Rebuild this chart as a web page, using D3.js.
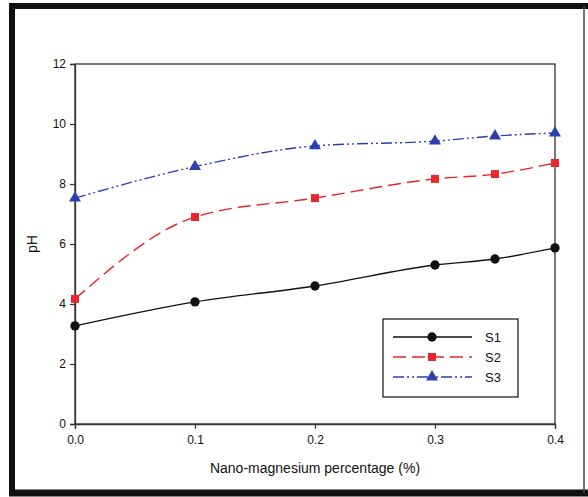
<!DOCTYPE html>
<html>
<head>
<meta charset="utf-8">
<script src="https://cdn.jsdelivr.net/npm/d3@7"></script>
<style>
  html, body { margin: 0; padding: 0; background: #fff; }
  svg { display: block; font-family: "Liberation Sans", Arial, sans-serif; }
</style>
</head>
<body>
<svg id="chart" width="588" height="497"></svg>
<script>
// Nano-magnesium content (%) on the x axis
const percentages = [0, 0.1, 0.2, 0.3, 0.35, 0.4];
// pH readings per mix
const seriesNames = ["S1", "S2", "S3"];
const s1Values = [3.27, 4.07, 4.6, 5.3, 5.5, 5.87];
const s2Values = [4.17, 6.9, 7.53, 8.17, 8.33, 8.7];
const s3Values = [7.53, 8.58, 9.27, 9.43, 9.6, 9.7];
const xTicks = [0, 0.1, 0.2, 0.3, 0.4];
const yTicks = [0, 2, 4, 6, 8, 10, 12];

const svg = d3.select("#chart");

// outer frame
const frame = svg.append("g");
frame.append("rect").attr("x", 0).attr("y", 0).attr("width", 588).attr("height", 497).attr("fill", "#fff");
frame.append("line").attr("x1", 12).attr("x2", 12).attr("y1", 3).attr("y2", 494)
  .attr("stroke", "#111").attr("stroke-width", 6);
frame.append("line").attr("x1", 9).attr("x2", 588).attr("y1", 6).attr("y2", 6)
  .attr("stroke", "#111").attr("stroke-width", 6);
frame.append("line").attr("x1", 9).attr("x2", 588).attr("y1", 493).attr("y2", 493)
  .attr("stroke", "#111").attr("stroke-width", 7);
frame.append("line").attr("x1", 584).attr("x2", 584).attr("y1", 6).attr("y2", 493)
  .attr("stroke", "#444").attr("stroke-width", 1.5);

const plot = { left: 75, right: 555, top: 64, bottom: 424 };
const x = d3.scaleLinear().domain([0, 0.4]).range([plot.left, plot.right]);
const y = d3.scaleLinear().domain([0, 12]).range([plot.bottom, plot.top]);

// plot box
svg.append("rect")
  .attr("x", plot.left).attr("y", plot.top)
  .attr("width", plot.right - plot.left).attr("height", plot.bottom - plot.top)
  .attr("fill", "none").attr("stroke", "#333").attr("stroke-width", 1.3);

const xAxis = svg.append("g")
  .attr("transform", `translate(0,${plot.bottom})`)
  .call(d3.axisBottom(x).tickValues(xTicks).tickFormat(d3.format(".1f")).tickSize(5).tickPadding(6));
const yAxis = svg.append("g")
  .attr("transform", `translate(${plot.left},0)`)
  .call(d3.axisLeft(y).tickValues(yTicks).tickFormat(d3.format("d")).tickSize(5).tickPadding(4));

[xAxis, yAxis].forEach(a => {
  a.select(".domain").attr("stroke", "#333").attr("stroke-width", 1.3);
  a.selectAll(".tick line").attr("stroke", "#333").attr("stroke-width", 1.2);
  a.selectAll(".tick text").attr("fill", "#111").attr("font-size", 12)
    .attr("font-family", "'Liberation Sans', Arial, sans-serif");
});

// axis titles
svg.append("text")
  .attr("x", (plot.left + plot.right) / 2).attr("y", 473)
  .attr("text-anchor", "middle").attr("font-size", 14).attr("fill", "#111")
  .text("Nano-magnesium percentage (%)");
svg.append("text")
  .attr("transform", `translate(37,${(plot.top + plot.bottom) / 2}) rotate(-90)`)
  .attr("text-anchor", "middle").attr("font-size", 14).attr("fill", "#111")
  .text("pH");

const series = [
  { name: seriesNames[0], values: s1Values, color: "#111", dash: null, marker: "circle" },
  { name: seriesNames[1], values: s2Values, color: "#e8262b", dash: "13,6", marker: "square" },
  { name: seriesNames[2], values: s3Values, color: "#2d3fae", dash: "11,3,2,3,2,3", marker: "triangle" }
];

const line = d3.line()
  .x(d => x(d[0])).y(d => y(d[1]))
  .curve(d3.curveMonotoneX);

const symbolFor = {
  circle: d3.symbol().type(d3.symbolCircle).size(68),
  square: d3.symbol().type(d3.symbolSquare).size(64),
  triangle: d3.symbol().type(d3.symbolTriangle).size(62)
};

series.forEach(s => {
  const pts = percentages.map((p, i) => [p, s.values[i]]);
  svg.append("path")
    .datum(pts)
    .attr("d", line)
    .attr("fill", "none")
    .attr("stroke", s.color)
    .attr("stroke-width", 1.4)
    .attr("stroke-dasharray", s.dash);
  svg.append("g").selectAll("path")
    .data(pts)
    .join("path")
    .attr("transform", d => `translate(${x(d[0])},${y(d[1])})`)
    .attr("d", symbolFor[s.marker])
    .attr("fill", s.color);
});

// legend
const legend = svg.append("g").attr("transform", "translate(383,319)");
legend.append("rect").attr("width", 135).attr("height", 78)
  .attr("fill", "#fff").attr("stroke", "#222").attr("stroke-width", 1.3);
series.forEach((s, i) => {
  const ly = 18 + i * 20;
  legend.append("line")
    .attr("x1", 10).attr("x2", 89).attr("y1", ly).attr("y2", ly)
    .attr("stroke", s.color).attr("stroke-width", 1.4)
    .attr("stroke-dasharray", s.dash);
  legend.append("path")
    .attr("transform", `translate(49,${ly})`)
    .attr("d", symbolFor[s.marker])
    .attr("fill", s.color);
  legend.append("text")
    .attr("x", 102).attr("y", ly + 5)
    .attr("font-size", 13).attr("fill", "#111")
    .text(s.name);
});
</script>
</body>
</html>
